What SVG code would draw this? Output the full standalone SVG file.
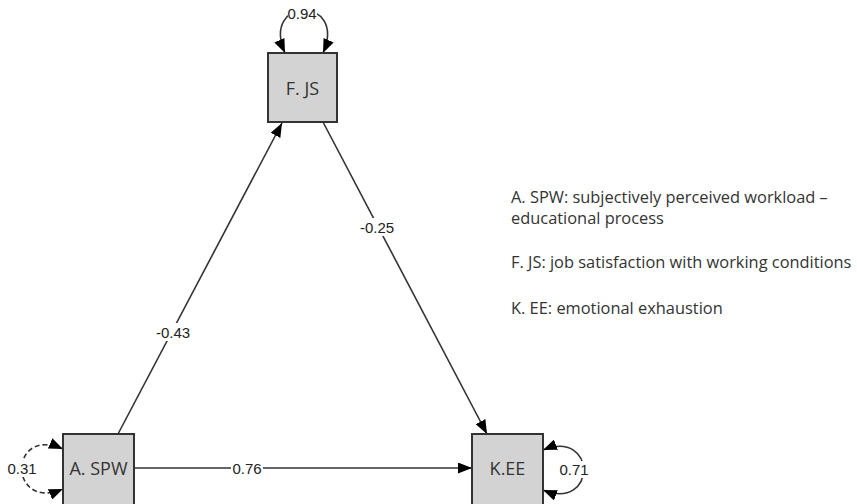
<svg xmlns="http://www.w3.org/2000/svg" width="857" height="504" viewBox="0 0 857 504">
<style>
.box{fill:#d3d3d3;stroke:#333;stroke-width:2}
.nt{font-family:"Open Sans","DejaVu Sans",sans-serif;font-size:18px;fill:#333;text-anchor:middle;dominant-baseline:central}
.e{fill:none;stroke:#333;stroke-width:1.6}
.lbl{font-family:"Liberation Sans",Arial,sans-serif;font-size:15px;fill:#222;text-anchor:middle;dominant-baseline:central}
.bg{fill:#fff}
.leg{font-family:"Open Sans","DejaVu Sans",sans-serif;font-size:16.4px;fill:#333}
</style>
<defs>
<marker id="ah" markerUnits="userSpaceOnUse" markerWidth="14" markerHeight="11" refX="14" refY="5.5" orient="auto-start-reverse" viewBox="0 0 14 11">
<path d="M0,0 L14,5.5 L0,11 z" fill="#000"/>
</marker>
</defs>
<rect width="857" height="504" fill="#fff"/>
<g id="connectors">
<path class="e" d="M118,434 L282,123" marker-end="url(#ah)"/>
<path class="e" d="M323,122 L487,434" marker-end="url(#ah)"/>
<path class="e" d="M134,468 L472,468" marker-end="url(#ah)"/>
<path class="e" d="M285,53 C260,-4 348,-4 323,53" marker-start="url(#ah)" marker-end="url(#ah)"/>
<path class="e" d="M63,449 C8,425 8,512 63,489" stroke-dasharray="5,3" marker-start="url(#ah)" marker-end="url(#ah)"/>
<path class="e" d="M543,450 C597,428 597,512 543,490" marker-start="url(#ah)" marker-end="url(#ah)"/>
<rect class="bg" x="155" y="323" width="37" height="18"/>
<text class="lbl" x="173" y="332">-0.43</text>
<rect class="bg" x="359" y="218" width="37" height="18"/>
<text class="lbl" x="377" y="227">-0.25</text>
<rect class="bg" x="231" y="459" width="32" height="18"/>
<text class="lbl" x="247" y="468">0.76</text>
<rect class="bg" x="288" y="5" width="29" height="17"/>
<text class="lbl" x="302" y="13">0.94</text>
<rect class="bg" x="8" y="460" width="29" height="17"/>
<text class="lbl" x="22" y="468">0.31</text>
<rect class="bg" x="560" y="461" width="29" height="17"/>
<text class="lbl" x="574" y="469">0.71</text>
</g>
<g id="node-FJS">
<rect class="box" x="268" y="53" width="69" height="69"/>
<text class="nt" x="302.5" y="87.5">F. JS</text>
</g>
<g id="node-ASPW">
<rect class="box" x="63" y="434" width="71" height="71"/>
<text class="nt" x="98.5" y="468">A. SPW</text>
</g>
<g id="node-KEE">
<rect class="box" x="472" y="434" width="71" height="71"/>
<text class="nt" x="507.5" y="468">K.EE</text>
</g>
<g id="legend">
<text class="leg" x="511" y="203">A. SPW: subjectively perceived workload –</text>
<text class="leg" x="511" y="224">educational process</text>
<text class="leg" x="511" y="268">F. JS: job satisfaction with working conditions</text>
<text class="leg" x="511" y="314">K. EE: emotional exhaustion</text>
</g>
</svg>
